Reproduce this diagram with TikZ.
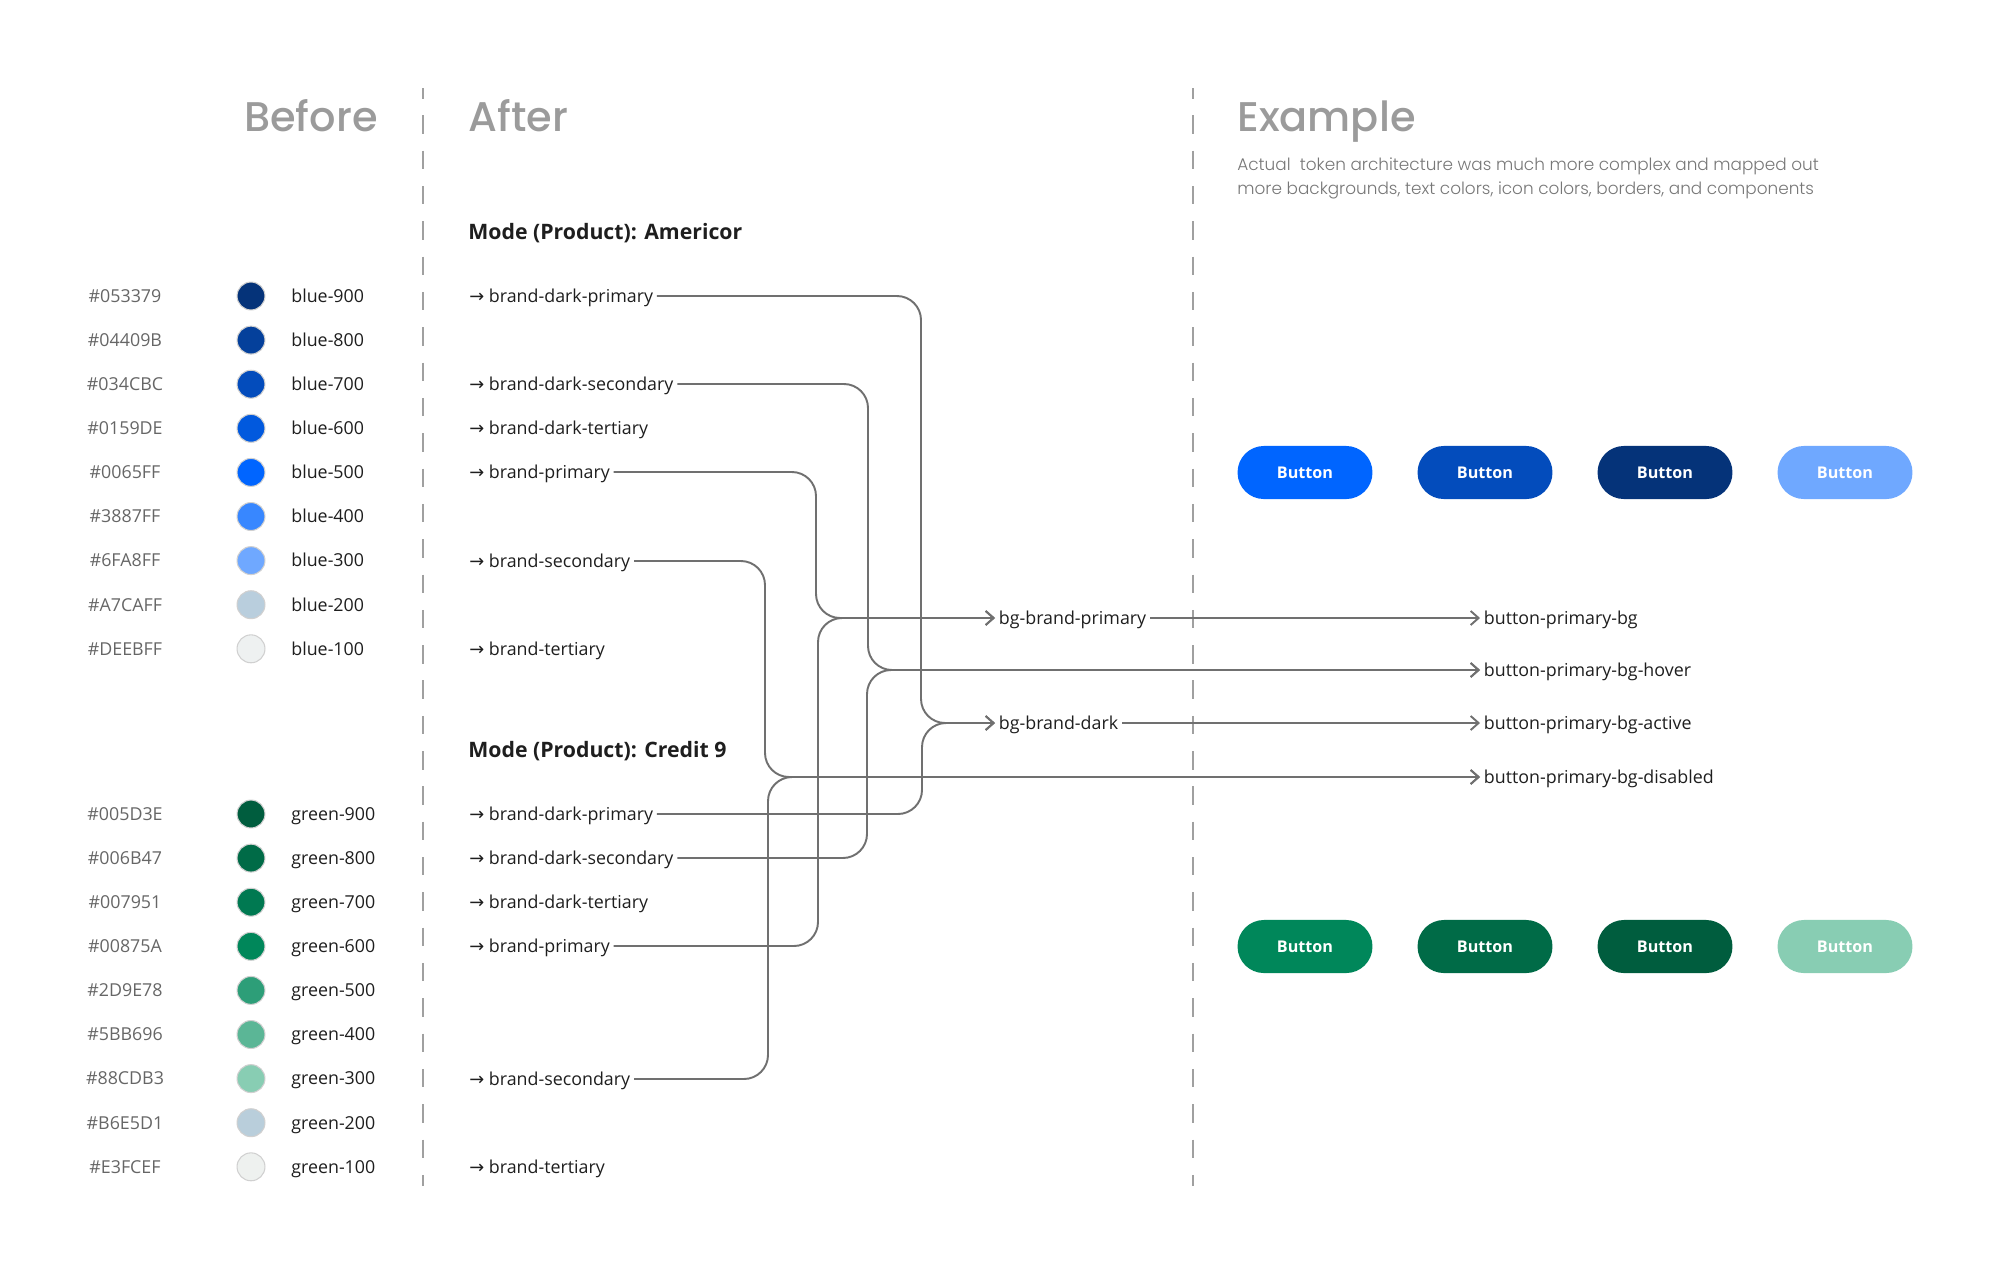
\documentclass[tikz,border=0pt]{standalone}
\usepackage{fontspec}
\setmainfont{Open Sans}
\newfontfamily\symfont{DejaVu Sans}
\IfFontExistsTF{Poppins Medium}{\newfontfamily\headfont{Poppins Medium}}{\newfontfamily\headfont{Poppins}}
\IfFontExistsTF{Poppins Light}{\newfontfamily\notefont{Poppins Light}}{\newfontfamily\notefont{Poppins}}
\IfFontExistsTF{Open Sans SemiBold}{\newfontfamily\semifont{Open Sans SemiBold}}{\newfontfamily\semifont{Open Sans Bold}}
\usetikzlibrary{arrows.meta}
\definecolor{ink}{HTML}{1E1E1E}
\definecolor{hexgray}{HTML}{666666}
\definecolor{conngray}{HTML}{707070}
\definecolor{headgray}{HTML}{9B9B9B}
\definecolor{notegray}{HTML}{777777}
\definecolor{divgray}{HTML}{A0A0A0}
\definecolor{rimgray}{HTML}{D0D0D0}
% blue ramp
\definecolor{b900}{HTML}{053379}
\definecolor{b800}{HTML}{04409B}
\definecolor{b700}{HTML}{034CBC}
\definecolor{b600}{HTML}{0159DE}
\definecolor{b500}{HTML}{0065FF}
\definecolor{b400}{HTML}{3887FF}
\definecolor{b300}{HTML}{6FA8FF}
\definecolor{b200}{HTML}{B9CEDD}
\definecolor{b100}{HTML}{EEF1F1}
% green ramp
\definecolor{g900}{HTML}{005D3E}
\definecolor{g800}{HTML}{006B47}
\definecolor{g700}{HTML}{007951}
\definecolor{g600}{HTML}{00875A}
\definecolor{g500}{HTML}{2D9E78}
\definecolor{g400}{HTML}{5BB696}
\definecolor{g300}{HTML}{88CDB3}
\definecolor{g200}{HTML}{B9CEDB}
\definecolor{g100}{HTML}{EEF1EF}
\newcommand\bodysize{\fontsize{10.15}{12}\selectfont}

\begin{document}
\begin{tikzpicture}[x=0.02cm,y=-0.02cm,
  hexlbl/.style={text=hexgray,font=\bodysize,inner sep=0pt,text height=7.25pt,text depth=0pt},
  swatch/.style={circle,draw=rimgray,line width=0.6pt,minimum size=15.9pt,inner sep=0pt},
  tokname/.style={anchor=west,text=ink,font=\bodysize,inner sep=0pt,text height=7.25pt,text depth=0pt},
  toklbl/.style={anchor=west,text=ink,font=\bodysize,inner sep=2pt,text height=7.25pt,text depth=0pt},
  headlbl/.style={text=headgray,font=\headfont\fontsize{23.6}{28}\selectfont,inner sep=0pt},
  modelbl/.style={anchor=base west,text=ink,font=\semifont\fontsize{12.1}{14}\selectfont,inner sep=0pt},
  notelbl/.style={anchor=base west,text=notegray,font=\notefont\fontsize{9.6}{12}\selectfont,inner sep=0pt},
  btn/.style={rounded corners=15pt,minimum width=76.8pt,minimum height=30.2pt,inner sep=0pt,text=white,font=\semifont\fontsize{9.2}{11}\selectfont},
  conn/.style={draw=conngray,line width=1.1pt,rounded corners=13.7pt},
  arr/.style={-{Straight Barb[length=4.5pt,width=8pt]}},
  divider/.style={draw=divgray,line width=0.85pt,dash pattern=on 10.5pt off 9.6pt,dash phase=4.5pt}]
\useasboundingbox (0,0) rectangle (2000,1275);
% ================ column titles ================
\node[headlbl,anchor=base east] (before) at (378,131) {Before};
\node[headlbl,anchor=base west] (after) at (468,131) {After};
\node[headlbl,anchor=base west] (example) at (1237,131) {Example};
\node[notelbl] (note1) at (1237,170) {Actual\ \ token architecture was much more complex and mapped out};
\node[notelbl] (note2) at (1237,194) {more backgrounds, text colors, icon colors, borders, and components};
\draw[divider] (423,88) -- (423,1186);
\draw[divider] (1193,88) -- (1193,1186);
% ================ Before: primitive ramps ================
\foreach \hx/\tone [count=\i] in {053379/900,04409B/800,034CBC/700,0159DE/600,0065FF/500,3887FF/400,6FA8FF/300,A7CAFF/200,DEEBFF/100}{
  \node[hexlbl] (hexb\i) at (125,{296+44.1*(\i-1)}) {\#\hx};
  \node[swatch,fill=b\tone] (dotb\i) at (251,{296+44.1*(\i-1)}) {};
  \node[tokname] (nameb\i) at (291,{296+44.1*(\i-1)}) {blue-\tone};
}
\foreach \hx/\tone [count=\i] in {005D3E/900,006B47/800,007951/700,00875A/600,2D9E78/500,5BB696/400,88CDB3/300,B6E5D1/200,E3FCEF/100}{
  \node[hexlbl] (hexg\i) at (125,{814+44.1*(\i-1)}) {\#\hx};
  \node[swatch,fill=g\tone] (dotg\i) at (251,{814+44.1*(\i-1)}) {};
  \node[tokname] (nameg\i) at (291,{814+44.1*(\i-1)}) {green-\tone};
}
% ================ After: brand aliases ================
\node[modelbl] (modeam) at (468,239) {Mode (Product): Americor};
\node[toklbl] (amdp) at (465.5,296) {{\symfont →}\ brand-dark-primary};
\node[toklbl] (amds) at (465.5,384) {{\symfont →}\ brand-dark-secondary};
\node[toklbl] (amdt) at (465.5,428) {{\symfont →}\ brand-dark-tertiary};
\node[toklbl] (amp) at (465.5,472) {{\symfont →}\ brand-primary};
\node[toklbl] (ams) at (465.5,561) {{\symfont →}\ brand-secondary};
\node[toklbl] (amt) at (465.5,649) {{\symfont →}\ brand-tertiary};
\node[modelbl] (modecr) at (468,757) {Mode (Product): Credit 9};
\node[toklbl] (crdp) at (465.5,814) {{\symfont →}\ brand-dark-primary};
\node[toklbl] (crds) at (465.5,858) {{\symfont →}\ brand-dark-secondary};
\node[toklbl] (crdt) at (465.5,902) {{\symfont →}\ brand-dark-tertiary};
\node[toklbl] (crp) at (465.5,946) {{\symfont →}\ brand-primary};
\node[toklbl] (crs) at (465.5,1079) {{\symfont →}\ brand-secondary};
\node[toklbl] (crt) at (465.5,1167) {{\symfont →}\ brand-tertiary};
% semantic and component tokens
\node[toklbl] (bgprim) at (995,618) {bg-brand-primary};
\node[toklbl] (bgdark) at (995,723) {bg-brand-dark};
\node[toklbl] (cbg) at (1480,618) {button-primary-bg};
\node[toklbl] (chov) at (1480,670) {button-primary-bg-hover};
\node[toklbl] (cact) at (1480,723) {button-primary-bg-active};
\node[toklbl] (cdis) at (1480,777) {button-primary-bg-disabled};
% bus columns
\coordinate (busas) at (765,0);
\coordinate (busap) at (816,0);
\coordinate (busads) at (868,0);
\coordinate (busadp) at (921,0);
\coordinate (buscs) at (768,0);
\coordinate (buscp) at (818,0);
\coordinate (buscds) at (867,0);
\coordinate (buscdp) at (922,0);
% Americor connectors
\draw[conn,arr] (amdp.east) -- (amdp.east -| busadp) -- (busadp |- bgdark.west) -- (bgdark.west);
\draw[conn,arr] (amds.east) -- (amds.east -| busads) -- (busads |- chov.west) -- (chov.west);
\draw[conn,arr] (amp.east) -- (amp.east -| busap) -- (busap |- bgprim.west) -- (bgprim.west);
\draw[conn,arr] (ams.east) -- (ams.east -| busas) -- (busas |- cdis.west) -- (cdis.west);
% Credit 9 connectors
\draw[conn,arr] (crdp.east) -- (crdp.east -| buscdp) -- (buscdp |- bgdark.west) -- (bgdark.west);
\draw[conn,arr] (crds.east) -- (crds.east -| buscds) -- (buscds |- chov.west) -- (chov.west);
\draw[conn,arr] (crp.east) -- (crp.east -| buscp) -- (buscp |- bgprim.west) -- (bgprim.west);
\draw[conn,arr] (crs.east) -- (crs.east -| buscs) -- (buscs |- cdis.west) -- (cdis.west);
% semantic -> component
\draw[conn,arr] (bgprim.east) -- (cbg.west);
\draw[conn,arr] (bgdark.east) -- (cact.west);
% ================ Example: buttons ================
\foreach \c [count=\i] in {b500,b700,b900,b300}{
  \node[btn,fill=\c] (pillb\i) at ({1305+180*(\i-1)},472.5) {Button};
}
\foreach \c [count=\i] in {g600,g800,g900,g300}{
  \node[btn,fill=\c] (pillg\i) at ({1305+180*(\i-1)},946.5) {Button};
}
\end{tikzpicture}
\end{document}
